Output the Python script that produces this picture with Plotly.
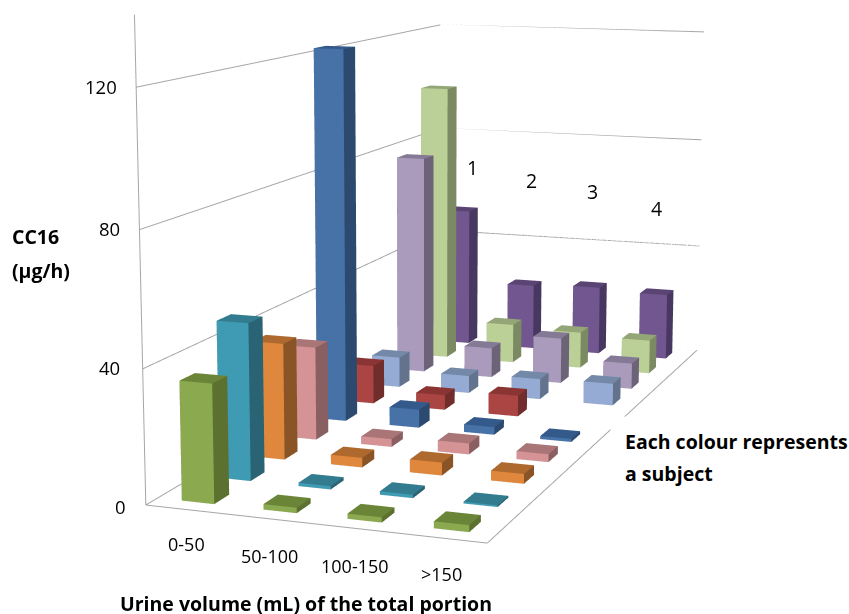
import numpy as np
import plotly.graph_objects as go

categories = ["0-50", "50-100", "100-150", ">150"]
depth_labels = ["1", "2", "3", "4"]
z_ticks = [0, 40, 80, 120]
# front to back
green = [35.5, 1.6, 1.5, 2]
teal = [48, 1, 1, 0.5]
orange = [36.5, 3, 4, 3]
pink = [30, 2.5, 3.5, 2.5]
blue = [122.5, 6, 2.5, 1]
red = [13, 5, 7, 0]
lightblue = [10.5, 6, 7, 7.5]
lilac = [77.5, 10.5, 16, 9]
lightgreen = [100, 14, 13, 12]
purple = [51, 24, 25, 24]
series = [green, teal, orange, pink, blue, red, lightblue, lilac, lightgreen, purple]
front_colors = ["#8BA94E", "#3F9BB3", "#DF873C", "#D69396", "#4672A8", "#AA4543", "#95ABD3", "#AA9BBD", "#BBD096", "#715690"]
side_colors = ["#5C7030", "#2A6374", "#8A5427", "#8A5F61", "#2C4A70", "#702D2C", "#63738D", "#6D6379", "#7B8A62", "#483760"]
top_colors = ["#6B8538", "#337C8F", "#AE6A2E", "#AA7577", "#345A8C", "#8A3533", "#7488A8", "#857A96", "#94A577", "#5A4474"]

XR, YR, ZR = 4.0, 10.0, 140.0
W, H = 849, 614
# camera solved from the reference's wall and floor corners
EYE = (1.630, -4.712, 0.792)
CENTER = (-0.010, -0.213, -0.050)
ASPECT = (0.736, 1.792, 1.0)
FOCAL, CENTER_Y = 2164.0, 244.4
HB = int(round(2 * FOCAL * np.tan(np.pi / 8)))
OFF = int(round(HB / 2 - CENTER_Y))

fig = go.Figure()
BW = 0.2
for i, vals in enumerate(series):
    xs, ys, zs, I, J_, K_, fc = [], [], [], [], [], [], []
    for j, v in enumerate(vals):
        if v <= 0:
            continue
        x0, x1 = j + .5 - BW, j + .5 + BW
        y0, y1 = i + .5 - BW, i + .5 + BW
        n = len(xs)
        xs += [x0, x1, x1, x0, x0, x1, x1, x0]
        ys += [y0, y0, y1, y1, y0, y0, y1, y1]
        zs += [0, 0, 0, 0, v, v, v, v]
        quads = [((0,1,5,4), front_colors[i]), ((1,2,6,5), side_colors[i]), ((4,5,6,7), top_colors[i]),
                 ((0,3,7,4), side_colors[i]), ((3,2,6,7), side_colors[i]), ((0,1,2,3), side_colors[i])]
        for q, col in quads:
            for tri in ((q[0], q[1], q[2]), (q[0], q[2], q[3])):
                I.append(n + tri[0]); J_.append(n + tri[1]); K_.append(n + tri[2]); fc.append(col)
    fig.add_trace(go.Mesh3d(x=xs, y=ys, z=zs, i=I, j=J_, k=K_, facecolor=fc, flatshading=True,
                            lighting=dict(ambient=1, diffuse=0, specular=0, fresnel=0), hoverinfo="skip", showscale=False))

lx, ly, lz = [], [], []
def seg(a, b):
    lx.extend([a[0], b[0], None]); ly.extend([a[1], b[1], None]); lz.extend([a[2], b[2], None])
for t in z_ticks:
    seg((0, 0, t), (0, YR, t))
    seg((0, YR, t), (XR, YR, t))
seg((0, 0, 0), (0, 0, ZR))
seg((0, 0, 0), (XR, 0, 0))
seg((XR, 0, 0), (XR, YR, 0))
for t in z_ticks:
    seg((0, 0, t), (-0.08, 0, t))
seg((0, 0, 0), (0, -0.12, 0))
fig.add_trace(go.Scatter3d(x=lx, y=ly, z=lz, mode="lines", line=dict(color="#A6A6A6", width=2), hoverinfo="skip", showlegend=False))

FONT = "Open Sans"
def label(text, x, y, size=18.5, bold=False, anchor="center"):
    fig.add_annotation(text=("<b>%s</b>" % text) if bold else text, x=x / W, y=1 - (y + OFF) / HB, xref="paper", yref="paper",
                       xanchor=anchor, yanchor="middle", showarrow=False,
                       font=dict(family=FONT, size=size, color="black"))
# the reference's white text box, which hides a piece of the floor edge
fig.add_annotation(text=" ", x=610 / W, y=1 - (416 + OFF) / HB, xref="paper", yref="paper", xanchor="left", yanchor="top",
                   width=239, height=74, bgcolor="white", showarrow=False)
for t, px, py in zip(z_ticks, [120, 109, 109, 101], [506, 367, 228, 86]):
    label(str(t), px, py)
for t, px, py in zip(categories, [186, 269, 355, 441], [544, 556, 566, 574]):
    label(t, px, py, size=18)
for t, px, py in zip(depth_labels, [473, 531, 592, 656], [167, 180, 192, 208]):
    label(t, px, py, size=19.5)
label("CC16", 10, 236, size=19.5, bold=True, anchor="left")
label("(µg/h)", 10, 270, size=19.5, bold=True, anchor="left")
label("Urine volume (mL) of the total portion", 306, 603, size=19.5, bold=True)
label("Each colour represents", 623, 441, size=19.5, bold=True, anchor="left")
label("a subject", 623, 473, size=19.5, bold=True, anchor="left")

fig.update_layout(width=W, height=HB, margin=dict(l=0, r=0, t=0, b=0), paper_bgcolor="white", showlegend=False,
    scene=dict(domain=dict(x=[0, 1], y=[0, 1]),
               xaxis=dict(visible=False, range=[0, XR]), yaxis=dict(visible=False, range=[0, YR]), zaxis=dict(visible=False, range=[0, ZR]),
               aspectmode="manual", aspectratio=dict(x=ASPECT[0], y=ASPECT[1], z=ASPECT[2]),
               camera=dict(eye=dict(x=EYE[0], y=EYE[1], z=EYE[2]), center=dict(x=CENTER[0], y=CENTER[1], z=CENTER[2]), up=dict(x=0, y=0, z=1),
                           projection=dict(type="perspective"))))
post = ("document.documentElement.style.overflow='hidden';document.body.style.overflow='hidden';document.body.style.margin='0';"
        "var g=document.getElementById('{plot_id}');g.style.position='fixed';g.style.left='0px';g.style.top='-%dpx';" % OFF)
fig.write_html("out.html", post_script=post, config=dict(displayModeBar=False))
